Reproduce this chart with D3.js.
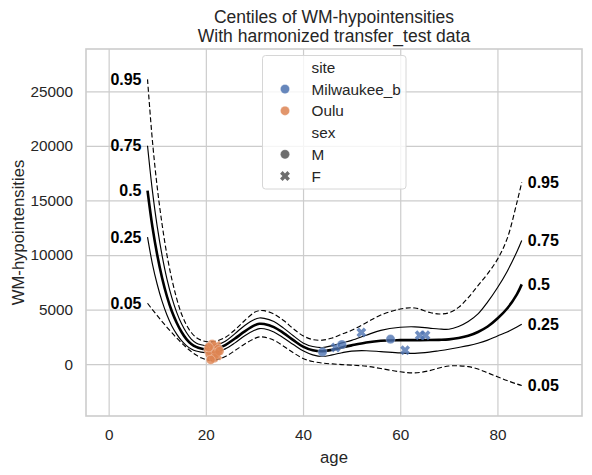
<!DOCTYPE html>
<html><head><meta charset="utf-8">
<script src="https://cdn.jsdelivr.net/npm/d3@7"></script>
<style>
body{margin:0;background:#fff;}
text{font-family:"Liberation Sans", Arial, sans-serif;}
</style>
</head><body>
<svg id="chart" width="592" height="475"></svg>
<script>
// ---- data ----
const ages = [8, 9, 10, 11, 12, 13, 14, 15, 16, 17, 18, 19, 20, 21, 22, 24, 26, 28, 30, 31, 32, 34, 36, 38, 40, 42, 44, 46, 48, 50, 53, 56, 60, 63, 66, 68, 70, 72, 74, 76, 78, 80, 82, 84, 85];
const c95 = [26100, 20500, 16200, 12800, 10000, 7800, 6000, 4600, 3600, 2900, 2450, 2200, 2080, 2040, 2100, 2450, 3150, 4000, 4750, 4900, 4900, 4600, 4000, 3250, 2600, 2250, 2200, 2400, 2750, 3100, 3800, 4500, 5050, 5150, 4750, 4600, 4700, 5200, 6100, 7200, 8300, 9600, 11500, 14800, 16660];
const c75 = [20020, 15900, 12600, 9950, 7800, 6100, 4750, 3700, 2900, 2300, 1950, 1780, 1690, 1670, 1720, 2100, 2800, 3550, 4100, 4230, 4200, 3900, 3300, 2600, 1950, 1620, 1520, 1700, 1950, 2180, 2650, 3100, 3380, 3420, 3300, 3220, 3200, 3450, 3900, 4600, 5700, 7000, 8500, 10300, 11330];
const c50 = [15900, 12600, 10000, 7900, 6200, 4850, 3800, 2950, 2300, 1850, 1580, 1430, 1360, 1340, 1390, 1750, 2350, 3000, 3550, 3700, 3680, 3400, 2850, 2200, 1600, 1270, 1180, 1320, 1530, 1720, 1980, 2150, 2200, 2200, 2210, 2230, 2270, 2400, 2600, 2950, 3450, 4180, 5100, 6400, 7310];
const c25 = [11640, 9200, 7300, 5750, 4500, 3500, 2750, 2150, 1700, 1400, 1200, 1100, 1060, 1050, 1090, 1400, 1950, 2600, 3100, 3260, 3240, 2950, 2400, 1800, 1220, 850, 700, 850, 1050, 1200, 1230, 1150, 1030, 990, 1100, 1230, 1370, 1530, 1700, 1920, 2200, 2580, 2950, 3400, 3660];
const c05 = [5580, 5000, 4450, 3900, 3380, 2880, 2400, 1950, 1530, 1150, 830, 580, 420, 360, 380, 700, 1250, 1850, 2350, 2500, 2480, 2200, 1650, 1050, 520, 250, 100, 20, -40, -90, -180, -400, -700, -800, -600, -350, -170, -150, -230, -450, -800, -1150, -1500, -1820, -1950];
const centileNames = ["0.05", "0.25", "0.5", "0.75", "0.95"];

const milwAges = [44, 46.7, 48, 52, 58, 61, 64, 65.2];
const milwVals = [1120, 1530, 1800, 2900, 2290, 1280, 2650, 2650];
const milwSex  = ["M", "F", "M", "F", "M", "F", "F", "F"];

const ouluAges = [20.5, 21.0, 21.3, 21.8, 22.2, 22.6, 21.5, 20.8, 22.0, 21.2, 22.8, 20.6, 21.7, 22.4, 21.0];
const ouluVals = [1300, 1600, 1850, 1500, 1700, 1400, 1100, 900, 1000, 700, 1200, 1550, 550, 800, 400];
const ouluSex  = ["M", "F", "M", "M", "F", "M", "F", "M", "M", "F", "M", "M", "M", "F", "M"];

const xTicks = [0, 20, 40, 60, 80];
const yTicks = [0, 5000, 10000, 15000, 20000, 25000];
const legendSites = ["Milwaukee_b", "Oulu"];
const legendSexes = ["M", "F"];

// ---- layout ----
const L = 86, R = 582, T = 49, B = 416;
const svg = d3.select("#chart");
const x = d3.scaleLinear().domain([-4.66, 97.4]).range([L, R]);
const y = d3.scaleLinear().domain([-4750, 28880]).range([B, T]);
const txt = "#262626", gridC = "#cccccc";
const siteColor = d3.scaleOrdinal().domain(legendSites).range(["#4c72b0", "#dd8452"]);

// grid
const gx = svg.append("g").attr("transform", `translate(0,${B})`)
  .call(d3.axisBottom(x).tickValues(xTicks).tickSize(-(B - T)).tickPadding(13).tickFormat(d3.format("d")));
const gy = svg.append("g").attr("transform", `translate(${L},0)`)
  .call(d3.axisLeft(y).tickValues(yTicks).tickSize(-(R - L)).tickPadding(13).tickFormat(d3.format("d")));
[gx, gy].forEach(g => {
  g.select(".domain").remove();
  g.selectAll(".tick line").attr("stroke", gridC).attr("stroke-width", 1.2);
  g.selectAll(".tick text").attr("fill", txt).style("font-size", "15.3px").style("font-family", '"Liberation Sans", Arial, sans-serif');
});
// spines
svg.append("rect").attr("x", L).attr("y", T).attr("width", R - L).attr("height", B - T)
  .attr("fill", "none").attr("stroke", gridC).attr("stroke-width", 1.6);

// centile lines
const series = [c05, c25, c50, c75, c95];
const line = d3.line().x(d => x(d[0])).y(d => y(d[1])).curve(d3.curveCatmullRom.alpha(0.5));
series.forEach((vals, i) => {
  const pts = ages.map((a, k) => [a, vals[k]]);
  const p = svg.append("path").attr("d", line(pts)).attr("fill", "none").attr("stroke", "#000")
    .attr("stroke-width", i === 2 ? 2.6 : 1.15);
  if (i === 0 || i === 4) p.attr("stroke-dasharray", "5,2.6");
  const first = pts[0], last = pts[pts.length - 1];
  svg.append("text").attr("x", x(first[0]) - 6).attr("y", y(first[1])).attr("text-anchor", "end")
    .attr("dominant-baseline", "central").attr("font-weight", "bold").attr("font-size", "16px").attr("fill", "#000")
    .text(centileNames[i]);
  svg.append("text").attr("x", x(last[0]) + 6).attr("y", y(last[1])).attr("text-anchor", "start")
    .attr("dominant-baseline", "central").attr("font-weight", "bold").attr("font-size", "16px").attr("fill", "#000")
    .text(centileNames[i]);
});

// markers
function xPath(r, a) {
  const pts = [[-a,-r],[a,-r],[a,-a],[r,-a],[r,a],[a,a],[a,r],[-a,r],[-a,a],[-r,a],[-r,-a],[-a,-a]];
  return "M" + pts.map(p => p.join(",")).join("L") + "Z";
}
function drawMarker(g, cx, cy, sex, color, opacity) {
  if (sex === "M") {
    g.append("circle").attr("cx", cx).attr("cy", cy).attr("r", 4.6).attr("fill", color).attr("fill-opacity", opacity)
      .attr("stroke", "#fff").attr("stroke-width", 0.5).attr("stroke-opacity", 0.6);
  } else {
    g.append("path").attr("d", xPath(5.2, 1.8)).attr("transform", `translate(${cx},${cy}) rotate(45)`)
      .attr("fill", color).attr("fill-opacity", opacity);
  }
}
const pg = svg.append("g");
ouluAges.forEach((a, i) => drawMarker(pg, x(a), y(ouluVals[i]), ouluSex[i], siteColor("Oulu"), 0.8));
milwAges.forEach((a, i) => drawMarker(pg, x(a), y(milwVals[i]), milwSex[i], siteColor("Milwaukee_b"), 0.8));

// legend
const lg = svg.append("g");
lg.append("rect").attr("x", 262.5).attr("y", 55.5).attr("width", 143.5).attr("height", 133.5).attr("rx", 3)
  .attr("fill", "#fff").attr("fill-opacity", 0.8).attr("stroke", "#d6d6d6").attr("stroke-width", 1);
const rows = [
  {label: "site"},
  {label: "Milwaukee_b", kind: "M", color: siteColor("Milwaukee_b")},
  {label: "Oulu", kind: "M", color: siteColor("Oulu")},
  {label: "sex"},
  {label: "M", kind: "M", color: "#555555"},
  {label: "F", kind: "F", color: "#555555"}
];
rows.forEach((r, i) => {
  const cy = 67.3 + i * 21.75;
  if (r.kind) drawMarker(lg, 285, cy, r.kind, r.color, 0.85);
  lg.append("text").attr("x", 311.5).attr("y", cy).attr("dominant-baseline", "central")
    .attr("font-size", "15.3px").attr("fill", txt).text(r.label);
});

// titles
const cxp = (L + R) / 2;
svg.append("text").attr("x", cxp).attr("y", 23).attr("text-anchor", "middle").attr("font-size", "17.5px").attr("fill", txt)
  .text("Centiles of WM-hypointensities");
svg.append("text").attr("x", cxp).attr("y", 42).attr("text-anchor", "middle").attr("font-size", "17.5px").attr("fill", txt)
  .text("With harmonized transfer_test data");
svg.append("text").attr("x", cxp).attr("y", 463).attr("text-anchor", "middle").attr("font-size", "16.7px").attr("fill", txt)
  .text("age");
svg.append("text").attr("transform", `translate(24,${(T + B) / 2}) rotate(-90)`).attr("text-anchor", "middle")
  .attr("font-size", "16.7px").attr("fill", txt).text("WM-hypointensities");
</script>
</body></html>
